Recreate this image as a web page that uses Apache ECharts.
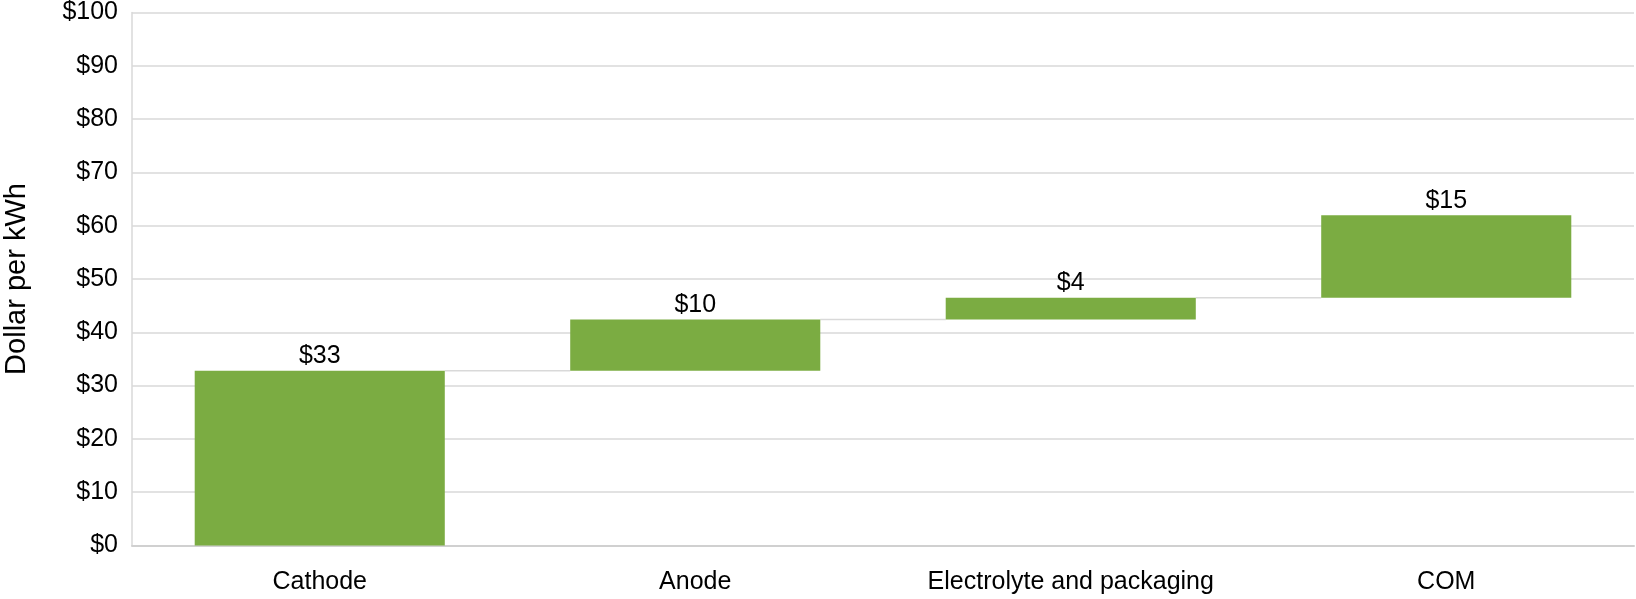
<!DOCTYPE html>
<html>
<head>
<meta charset="utf-8">
<title>Cell cost breakdown</title>
<script src="https://cdn.jsdelivr.net/npm/echarts@6/dist/echarts.min.js"></script>
<style>
  html, body { margin: 0; padding: 0; background: #ffffff; }
  #chart { width: 1636px; height: 599px; }
</style>
</head>
<body>
<div id="chart"></div>
<script>
// Cost components, dollars per kWh
const categories = ['Cathode', 'Anode', 'Electrolyte and packaging', 'COM'];
const costs = [32.8, 9.6, 4.1, 15.45];

// Y axis range and step
const yMin = 0;
const yMax = 100;
const yStep = 10;

// Running totals: each step starts where the previous one ended
const bases = [];
const tops = [];
let running = 0;
for (let i = 0; i < costs.length; i++) {
  bases.push(running);
  running += costs[i];
  tops.push(running);
}

const barRatio = 0.666;
const green = '#7bac42';
const gridGrey = '#d9d9d9';
const textFont = '"Liberation Sans", Arial, sans-serif';

// Connector segments between consecutive steps
const connectorData = [];
for (let i = 0; i < tops.length - 1; i++) {
  connectorData.push([i, tops[i]]);
}

const chart = echarts.init(document.getElementById('chart'), null, { renderer: 'canvas' });

chart.setOption({
  animation: false,
  backgroundColor: '#ffffff',
  grid: { left: 132, right: 2, top: 12.5, bottom: 53.5, containLabel: false, outerBoundsMode: 'none' },
  xAxis: {
    type: 'category',
    data: categories,
    axisLine: { show: true, lineStyle: { color: '#d0d0d0', width: 2 } },
    axisTick: { show: false },
    axisLabel: { color: '#000', fontFamily: textFont, fontSize: 25, margin: 24, interval: 0 },
    splitLine: { show: false }
  },
  yAxis: {
    type: 'value',
    min: yMin,
    max: yMax,
    interval: yStep,
    name: 'Dollar per kWh',
    nameLocation: 'middle',
    nameGap: 101,
    nameRotate: 90,
    nameTextStyle: { color: '#000', fontFamily: textFont, fontSize: 29 },
    axisLine: { show: true, lineStyle: { color: gridGrey, width: 1.5 } },
    axisTick: { show: false },
    axisLabel: {
      color: '#000', fontFamily: textFont, fontSize: 25, margin: 14,
      formatter: v => '$' + v
    },
    splitLine: { show: true, lineStyle: { color: gridGrey, width: 1.5 } }
  },
  series: [
    {
      name: 'base',
      type: 'bar',
      stack: 'waterfall',
      barWidth: (barRatio * 100) + '%',
      itemStyle: { color: 'transparent' },
      emphasis: { disabled: true },
      data: bases,
      z: 2
    },
    {
      name: 'cost',
      type: 'bar',
      stack: 'waterfall',
      barWidth: (barRatio * 100) + '%',
      itemStyle: { color: green },
      label: {
        show: true,
        position: 'top',
        distance: 2,
        color: '#000',
        fontFamily: textFont,
        fontSize: 25,
        formatter: p => '$' + Math.round(p.value)
      },
      data: costs,
      z: 3
    },
    {
      name: 'connectors',
      type: 'custom',
      data: connectorData,
      encode: { x: 0, y: 1 },
      z: 1,
      renderItem: function (params, api) {
        const i = api.value(0);
        const level = api.value(1);
        const p0 = api.coord([i, level]);
        const p1 = api.coord([i + 1, level]);
        const half = api.size([1, 0])[0] * barRatio / 2;
        return {
          type: 'line',
          shape: { x1: p0[0] + half, y1: p0[1], x2: p1[0] - half, y2: p1[1] },
          style: { stroke: gridGrey, lineWidth: 1.5 }
        };
      }
    }
  ]
});
</script>
</body>
</html>
